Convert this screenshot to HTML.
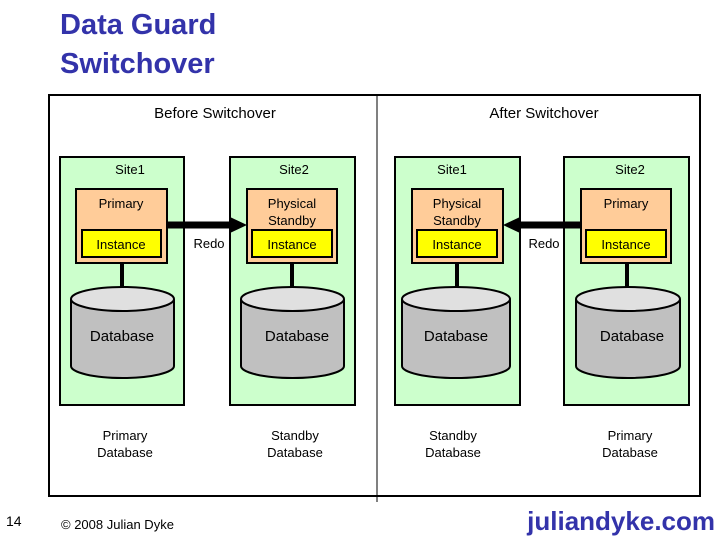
<!DOCTYPE html>
<html><head><style>
body{margin:0;width:720px;height:540px;background:#fff;overflow:hidden;font-family:"Liberation Sans",Arial,sans-serif}
</style></head><body>
<svg width="720" height="540" xmlns="http://www.w3.org/2000/svg" font-family="Liberation Sans, Arial, sans-serif">
<text x="60" y="34" font-size="29" font-weight="bold" fill="#3333aa">Data Guard</text>
<text x="60" y="73" font-size="29" font-weight="bold" fill="#3333aa">Switchover</text>
<rect x="49" y="95" width="651" height="401" fill="#fff" stroke="#000" stroke-width="2"/>
<line x1="377" y1="95" x2="377" y2="502" stroke="#000" stroke-width="1"/>
<text x="215" y="118" font-size="15" text-anchor="middle">Before Switchover</text>
<text x="544" y="118" font-size="15" text-anchor="middle">After Switchover</text>
<g font-size="13" text-anchor="middle">
<rect x="60" y="157" width="124" height="248" fill="#ccffcc" stroke="#000" stroke-width="2"/>
<rect x="230" y="157" width="125" height="248" fill="#ccffcc" stroke="#000" stroke-width="2"/>
<rect x="395" y="157" width="125" height="248" fill="#ccffcc" stroke="#000" stroke-width="2"/>
<rect x="564" y="157" width="125" height="248" fill="#ccffcc" stroke="#000" stroke-width="2"/>
<text x="130" y="174">Site1</text>
<text x="294" y="174">Site2</text>
<text x="452" y="174">Site1</text>
<text x="630" y="174">Site2</text>
<rect x="76" y="189" width="91" height="74" fill="#ffcc99" stroke="#000" stroke-width="2"/>
<rect x="247" y="189" width="90" height="74" fill="#ffcc99" stroke="#000" stroke-width="2"/>
<rect x="412" y="189" width="91" height="74" fill="#ffcc99" stroke="#000" stroke-width="2"/>
<rect x="581" y="189" width="90" height="74" fill="#ffcc99" stroke="#000" stroke-width="2"/>
<text x="121" y="208">Primary</text>
<text x="292" y="208">Physical</text><text x="292" y="225">Standby</text>
<text x="457" y="208">Physical</text><text x="457" y="225">Standby</text>
<text x="626" y="208">Primary</text>
<rect x="82" y="230" width="79" height="27" fill="#ffff00" stroke="#000" stroke-width="2"/>
<rect x="252" y="230" width="80" height="27" fill="#ffff00" stroke="#000" stroke-width="2"/>
<rect x="417" y="230" width="80" height="27" fill="#ffff00" stroke="#000" stroke-width="2"/>
<rect x="586" y="230" width="80" height="27" fill="#ffff00" stroke="#000" stroke-width="2"/>
<text x="121" y="249">Instance</text>
<text x="292" y="249">Instance</text>
<text x="457" y="249">Instance</text>
<text x="626" y="249">Instance</text>
<line x1="122" y1="263" x2="122" y2="290" stroke="#000" stroke-width="4"/>
<line x1="292" y1="263" x2="292" y2="290" stroke="#000" stroke-width="4"/>
<line x1="457" y1="263" x2="457" y2="290" stroke="#000" stroke-width="4"/>
<line x1="627" y1="263" x2="627" y2="290" stroke="#000" stroke-width="4"/>
<line x1="167" y1="225" x2="232" y2="225" stroke="#000" stroke-width="7"/>
<polygon points="230,217 247,225 230,233" fill="#000"/>
<line x1="519" y1="225" x2="581" y2="225" stroke="#000" stroke-width="7"/>
<polygon points="520,217 503,225 520,233" fill="#000"/>
<text x="209" y="248">Redo</text>
<text x="544" y="248">Redo</text>
</g>
<g stroke="#000" stroke-width="2" fill="#c0c0c0">
<path d="M71,299 L71,366 A51.5,12 0 0 0 174,366 L174,299"/>
<ellipse cx="122.5" cy="299" rx="51.5" ry="12" fill="#e0e0e0"/>
<path d="M241,299 L241,366 A51.5,12 0 0 0 344,366 L344,299"/>
<ellipse cx="292.5" cy="299" rx="51.5" ry="12" fill="#e0e0e0"/>
<path d="M402,299 L402,366 A54,12 0 0 0 510,366 L510,299"/>
<ellipse cx="456" cy="299" rx="54" ry="12" fill="#e0e0e0"/>
<path d="M576,299 L576,366 A52,12 0 0 0 680,366 L680,299"/>
<ellipse cx="628" cy="299" rx="52" ry="12" fill="#e0e0e0"/>
</g>
<g font-size="15" text-anchor="middle">
<text x="122" y="341">Database</text>
<text x="297" y="341">Database</text>
<text x="456" y="341">Database</text>
<text x="632" y="341">Database</text>
</g>
<g font-size="13" text-anchor="middle">
<text x="125" y="440">Primary</text><text x="125" y="457">Database</text>
<text x="295" y="440">Standby</text><text x="295" y="457">Database</text>
<text x="453" y="440">Standby</text><text x="453" y="457">Database</text>
<text x="630" y="440">Primary</text><text x="630" y="457">Database</text>
</g>
<text x="6" y="526" font-size="14">14</text>
<text x="61" y="529" font-size="13">© 2008 Julian Dyke</text>
<text x="715" y="530" font-size="26" font-weight="bold" fill="#3333aa" text-anchor="end">juliandyke.com</text>
</svg>
</body></html>
